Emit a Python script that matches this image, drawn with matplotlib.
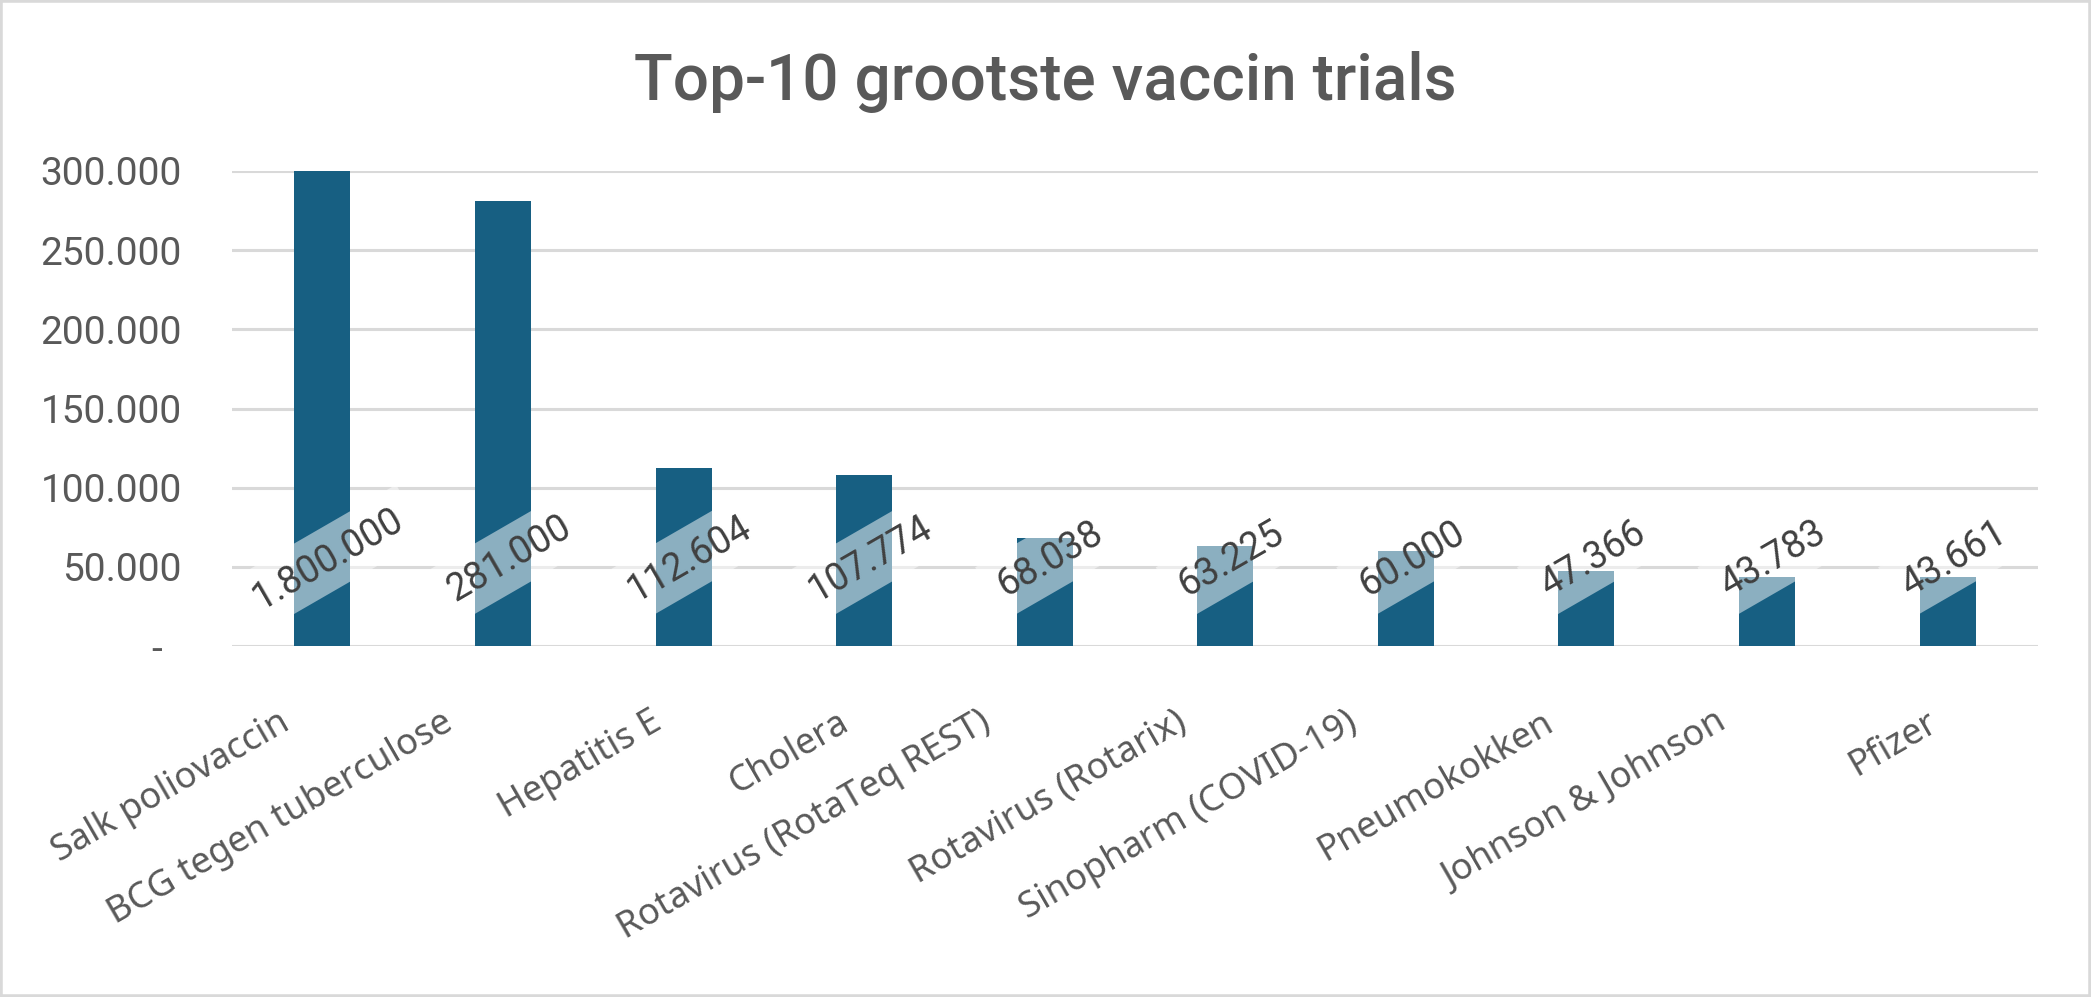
import matplotlib.pyplot as plt
import numpy as np
from matplotlib.patches import Rectangle
from matplotlib.transforms import ScaledTranslation, blended_transform_factory

# data
categories = ['Salk poliovaccin', 'BCG tegen tuberculose', 'Hepatitis E', 'Cholera',
              'Rotavirus (RotaTeq REST)', 'Rotavirus (Rotarix)', 'Sinopharm (COVID-19)',
              'Pneumokokken', 'Johnson & Johnson', 'Pfizer']
deelnemers = [1800000, 281000, 112604, 107774, 68038, 63225, 60000, 47366, 43783, 43661]
yticks = [0, 50000, 100000, 150000, 200000, 250000, 300000]
ytick_labels = ['-  ', '50.000', '100.000', '150.000', '200.000', '250.000', '300.000']
title = 'Top-10 grootste vaccin trials'

bar_color = '#175F82'
grid_color = '#D9D9D9'
text_color = '#595959'

def fmt(v):
    return f'{v:,}'.replace(',', '.')

fig = plt.figure(figsize=(20.91, 9.97), dpi=100)
fig.patch.set_facecolor('white')
ax = fig.add_axes([0.111, 0.352, 0.8636, 0.4765])

x = np.arange(len(categories))
for y in yticks:
    ax.axhline(y, color=grid_color, lw=2.2, zorder=0)
ax.bar(x, deelnemers, width=0.31, color=bar_color, zorder=2)

ax.set_xlim(-0.5, len(categories) - 0.5)
ax.set_ylim(0, 300000)
for s in ax.spines.values():
    s.set_visible(False)
ax.set_yticks(yticks)
ax.set_yticklabels(ytick_labels, fontsize=28, family='Roboto', color=text_color)
ax.tick_params(axis='y', length=0, pad=36)
ax.set_xticks([])

# data labels, all on one row near the base of the bars
shift = ScaledTranslation(0.06, 0, fig.dpi_scale_trans)
for i, v in enumerate(deelnemers):
    ax.text(i, 55000, fmt(v), rotation=30, rotation_mode='anchor', ha='center', va='center',
            fontsize=27, family='Roboto', color='#404040', zorder=3,
            transform=ax.transData + shift,
            bbox=dict(boxstyle='square,pad=0.32', fc='white', ec='none', alpha=0.5))

# category labels (excel style: end shifts left a bit with longer text)
trans = blended_transform_factory(ax.transData, ax.transAxes)
labels = []
for i, c in enumerate(categories):
    t = ax.text(i, 0, c, fontsize=26, family='Noto Sans', color=text_color,
                ha='right', va='center', transform=trans, clip_on=False)
    labels.append(t)
fig.canvas.draw()
r = fig.canvas.get_renderer()
for t in labels:
    w = t.get_window_extent(r).width
    dx = (0 - 0.134 * w) / 100
    t.set_rotation(30)
    t.set_rotation_mode('anchor')
    t.set_transform(trans + ScaledTranslation(dx, -0.74, fig.dpi_scale_trans))

fig.text(0.5, 1 - 100 / 997, title, ha='center', va='baseline', fontsize=46,
         family='Roboto', fontweight='medium', color=text_color)

fig.add_artist(Rectangle((0, 0), 1, 1, transform=fig.transFigure, fill=False,
                         ec=grid_color, lw=4))

fig.savefig('out.png', dpi=100, facecolor='white')
